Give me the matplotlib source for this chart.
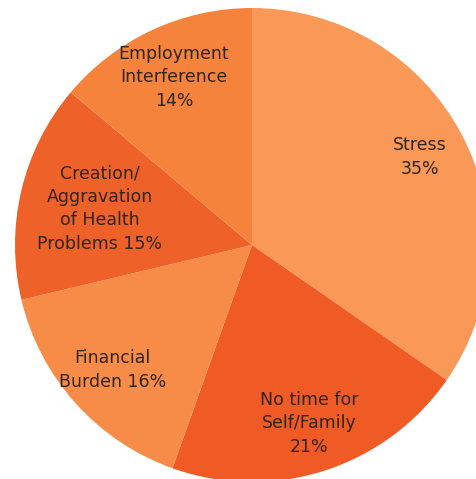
import numpy as np
import matplotlib
matplotlib.use("Agg")
import matplotlib.pyplot as plt

categories = ["Stress\n35%", "No time for\nSelf/Family\n21%", "Financial\nBurden 16%",
              "Creation/\nAggravation\nof Health\nProblems 15%", "Employment\nInterference\n14%"]
values = [35, 21, 16, 15, 14]
colors = ["#FA9858", "#F05B25", "#F78C48", "#EE6229", "#F5833C"]
label_dist = [0.80, 0.79, 0.79, 0.66, 0.78]

W, H = 477, 479
fig = plt.figure(figsize=(W / 100, H / 100), dpi=100)
ax = fig.add_axes([0, 0, 1, 1])
cx, cy, R = 252, 245, 237
wedges, _ = ax.pie(values, colors=colors, startangle=90, counterclock=False,
                   radius=1, center=(0, 0), wedgeprops=dict(linewidth=0))
ax.set_aspect("auto")
ax.set_xlim(-cx / R, (W - cx) / R)
ax.set_ylim(-(H - cy) / R, cy / R)
ax.axis("off")

for w, lab, d in zip(wedges, categories, label_dist):
    th = np.deg2rad((w.theta1 + w.theta2) / 2)
    ax.text(d * np.cos(th), d * np.sin(th), lab, ha="center", va="center",
            fontsize=12.5, color="#2e2520", linespacing=1.38,
            family=["DejaVu Sans"])

fig.savefig("out.png", dpi=100, facecolor="white")
